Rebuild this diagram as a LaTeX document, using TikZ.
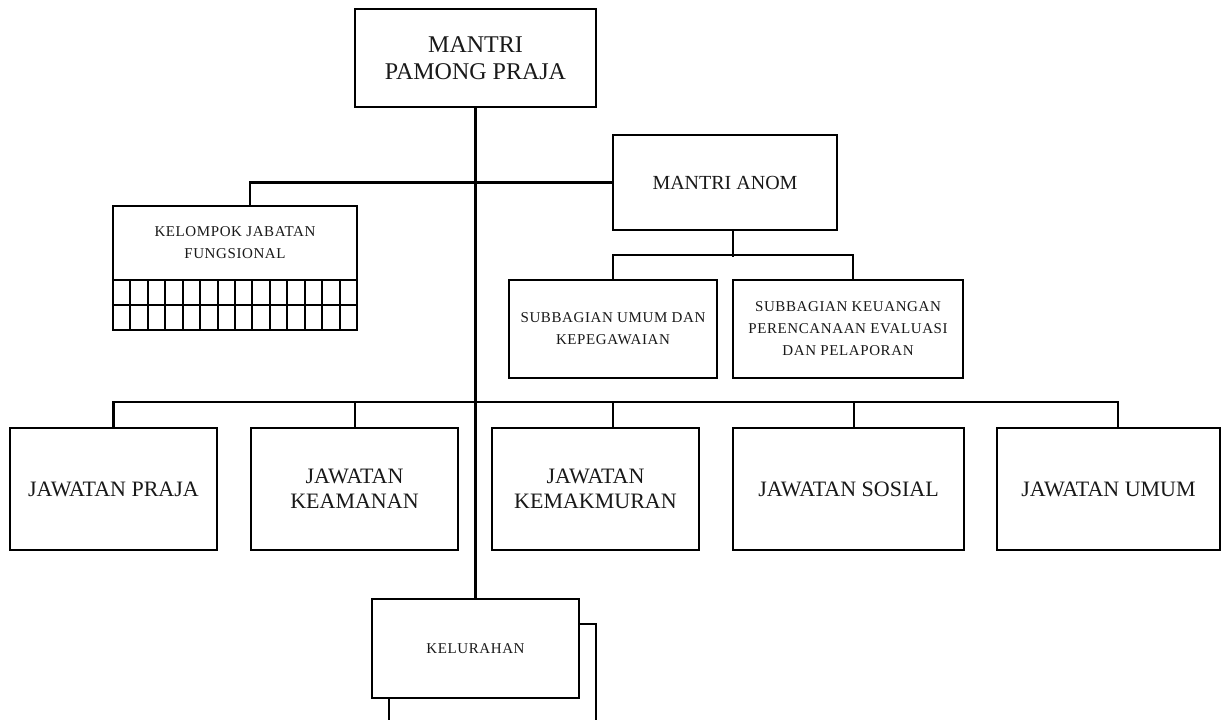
\documentclass[tikz,border=0pt]{standalone}
\usepackage{fontspec}
\setmainfont{Liberation Serif}
\newfontfamily\spacedserif[LetterSpace=4]{Liberation Serif}
\begin{document}
\begin{tikzpicture}[x=1pt,y=-1pt,line width=2.3pt,
  box/.style={draw=black,fill=white,inner sep=0pt,align=center,text=black!90},
  big/.style={font=\fontsize{24}{27}\selectfont},
  anomf/.style={font=\fontsize{20}{25}\selectfont},
  mid/.style={font=\fontsize{22}{25}\selectfont},
  small/.style={font=\spacedserif\fontsize{15}{22}\selectfont}]
\useasboundingbox (0,0) rectangle (1221,720);
% back sheet of kelurahan
\draw[fill=white] (389,624) rectangle (596,724);
% nodes
\node[box,big,minimum width=241,minimum height=98] (mpp) at (475.5,58) {MANTRI\\PAMONG PRAJA};
\node[box,anomf,minimum width=224,minimum height=95] (anom) at (725,182.5) {MANTRI ANOM};
\node[box,minimum width=244,minimum height=124] (kjf) at (235,268) {};
\node[small,align=center,inner sep=0pt,text=black!90] (kjft) at (235,243) {KELOMPOK JABATAN\\FUNGSIONAL};
\node[box,small,minimum width=208,minimum height=98] (sub1) at (613,329) {SUBBAGIAN UMUM DAN\\KEPEGAWAIAN};
\node[box,small,minimum width=230,minimum height=98] (sub2) at (848,329) {SUBBAGIAN KEUANGAN\\PERENCANAAN EVALUASI\\DAN PELAPORAN};
\node[box,mid,minimum width=207,minimum height=122] (jp) at (113.5,489) {JAWATAN PRAJA};
\node[box,mid,minimum width=207,minimum height=122] (jk) at (354.5,489) {JAWATAN\\KEAMANAN};
\node[box,mid,minimum width=207,minimum height=122] (jkm) at (595.5,489) {JAWATAN\\KEMAKMURAN};
\node[box,mid,minimum width=231,minimum height=122] (js) at (848.5,489) {JAWATAN SOSIAL};
\node[box,mid,minimum width=223,minimum height=122] (ju) at (1108.5,489) {JAWATAN UMUM};
\node[box,small,minimum width=207,minimum height=99] (kel) at (475.5,648.5) {KELURAHAN};
% grid in kjf
\draw[line width=1.5pt] (kjf.west |- 0,280) -- (kjf.east |- 0,280);
\draw[line width=1.5pt] (kjf.west |- 0,305) -- (kjf.east |- 0,305);
\foreach \i in {1,...,13} {\draw[line width=1.5pt] ({round(113+\i*17.43)},280) -- ({round(113+\i*17.43)},330);}
% connectors
\draw (mpp.south) -- (kel.north);
\draw (anom.west) -| ([xshift=15]kjf.north);
\draw ([xshift=8]anom.south) -- ++(0,26);
\draw (sub1.north) -- ++(0,-24) -| ([xshift=5]sub2.north);
\draw (jp.north) -- ++(0,-25) -| ([xshift=9.5]ju.north);
\draw ([xshift=0.5]jk.north) -- ++(0,-25);
\draw ([xshift=17.5]jkm.north) -- ++(0,-25);
\draw ([xshift=5.5]js.north) -- ++(0,-25);
\end{tikzpicture}
\end{document}
